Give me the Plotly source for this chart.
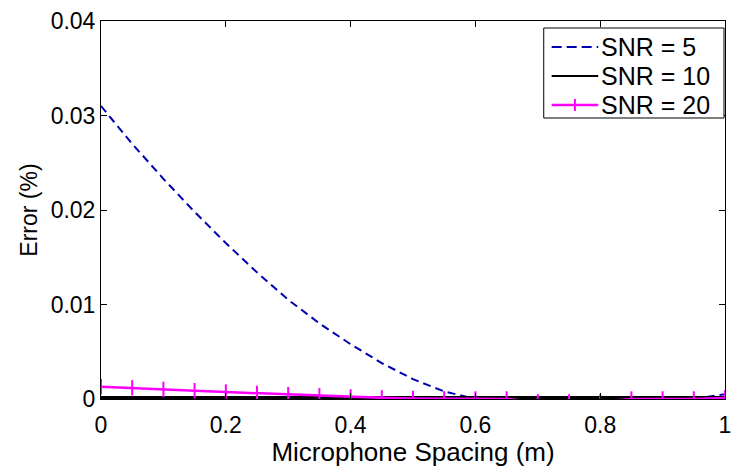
import plotly.graph_objects as go

# Microphone spacing (m), sampled every 0.05 m
spacing = [0.00, 0.05, 0.10, 0.15, 0.20, 0.25, 0.30, 0.35, 0.40, 0.45, 0.50,
           0.55, 0.60, 0.65, 0.70, 0.75, 0.80, 0.85, 0.90, 0.95, 1.00]

# Error (%) for each SNR level
err_snr5 = [0.0310, 0.0270, 0.0233, 0.0198, 0.0165, 0.0134, 0.0105, 0.0080,
            0.0058, 0.0038, 0.0021, 0.0008, 0.0000, 0.0000, 0.0000, 0.0000,
            0.0000, 0.0000, 0.0000, 0.0000, 0.0005]
err_snr10 = [0.0] * 21
err_snr20 = [0.00130, 0.00118, 0.00102, 0.00088, 0.00074, 0.00060, 0.00046,
             0.00034, 0.00022, 0.00012, 0.00006, 0.00002, 0.00000, 0.00000,
             -0.00030, -0.00030, -0.00030, 0.00000, 0.00000, 0.00000, 0.00010]

series_names = ["SNR = 5", "SNR = 10", "SNR = 20"]
x_ticks = [0, 0.2, 0.4, 0.6, 0.8, 1]
x_tick_text = ["0", "0.2", "0.4", "0.6", "0.8", "1"]
y_ticks = [0, 0.01, 0.02, 0.03, 0.04]
y_tick_text = ["0", "0.01", "0.02", "0.03", "0.04"]

FONT = "Liberation Sans, Arial, sans-serif"
BLUE = "#0000b0"
MAGENTA = "#ff00ff"

fig = go.Figure()
fig.add_trace(go.Scatter(
    x=spacing, y=err_snr5, mode="lines", name=series_names[0],
    line=dict(color=BLUE, width=2, dash="8px,5px"), showlegend=False,
))
fig.add_trace(go.Scatter(
    x=spacing, y=err_snr10, mode="lines", name=series_names[1],
    line=dict(color="black", width=6), showlegend=False,
))
fig.add_trace(go.Scatter(
    x=spacing, y=err_snr20, mode="lines+markers", name=series_names[2],
    line=dict(color=MAGENTA, width=2.5),
    marker=dict(symbol="line-ns", size=11, line=dict(color=MAGENTA, width=2)),
    showlegend=False,
))

# Boxed legend in the upper-right corner (paper coordinates)
W, H = 733, 467
ML, MR, MT, MB = 101, 2, 21, 68
pw, ph = W - ML - MR, H - MT - MB


def px(xp):
    return (xp - ML) / pw


def py(yp):
    return (H - MB - yp) / ph


box_l, box_r, box_t, box_b = 548, 730, 28, 118
row_y = [47, 76, 105]
seg_l, seg_r, text_x = 556, 603, 604

fig.add_shape(type="rect", xref="paper", yref="paper",
              x0=px(box_l), x1=px(box_r), y0=py(box_b), y1=py(box_t),
              line=dict(color="black", width=1), fillcolor="white", layer="above")
legend_styles = [
    dict(color=BLUE, width=2, dash="10px,5px"),
    dict(color="black", width=2),
    dict(color=MAGENTA, width=2.5),
]
for name, yr, st in zip(series_names, row_y, legend_styles):
    fig.add_shape(type="line", xref="paper", yref="paper",
                  x0=px(seg_l), x1=px(seg_r), y0=py(yr), y1=py(yr),
                  line=st, layer="above")
    fig.add_annotation(xref="paper", yref="paper", x=px(text_x), y=py(yr),
                       text=name, showarrow=False, xanchor="left", yanchor="middle",
                       font=dict(family=FONT, size=25, color="black"))
# plus-mark on the SNR = 20 sample line
mid = (seg_l + seg_r) / 2
fig.add_shape(type="line", xref="paper", yref="paper",
              x0=px(mid), x1=px(mid), y0=py(row_y[2] - 6), y1=py(row_y[2] + 6),
              line=dict(color=MAGENTA, width=2), layer="above")

fig.update_layout(
    width=W, height=H,
    margin=dict(l=ML, r=MR, t=MT, b=MB),
    paper_bgcolor="white", plot_bgcolor="white",
    font=dict(family=FONT, size=23, color="black"),
    showlegend=False,
    xaxis=dict(
        range=[0, 1], tickvals=x_ticks, ticktext=x_tick_text,
        showgrid=False, zeroline=False,
        showline=True, linecolor="black", linewidth=1, mirror="allticks",
        ticks="inside", ticklen=6, tickcolor="black",
        ticklabeloverflow="allow", ticklabelstandoff=5,
        title=dict(text="Microphone Spacing (m)", standoff=4,
                   font=dict(family=FONT, size=26)),
        tickfont=dict(family=FONT, size=23),
    ),
    yaxis=dict(
        range=[0, 0.04], tickvals=y_ticks, ticktext=y_tick_text,
        showgrid=False, zeroline=False,
        showline=True, linecolor="black", linewidth=1, mirror="allticks",
        ticks="inside", ticklen=6, tickcolor="black",
        ticklabeloverflow="allow",
        title=dict(text="Error (%)", standoff=6,
                   font=dict(family=FONT, size=23)),
        tickfont=dict(family=FONT, size=23),
    ),
)

fig.write_html("out.html")
